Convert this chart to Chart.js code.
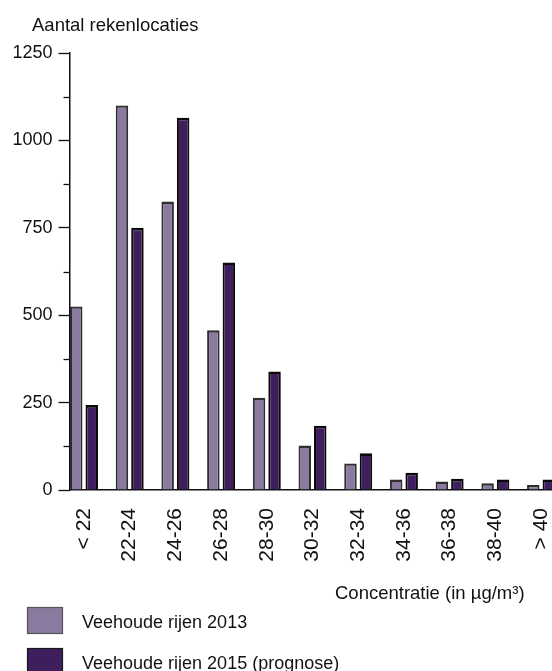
<!DOCTYPE html>
<html>
<head>
<meta charset="utf-8">
<script src="https://cdn.jsdelivr.net/npm/chart.js@4"></script>
<style>
  html, body { margin: 0; padding: 0; background: #fff; overflow: hidden; width: 552px; height: 671px; }
  canvas { display: block; }
</style>
</head>
<body>
<canvas id="c" width="600" height="671"></canvas>
<script>
const categories = ['< 22', '22-24', '24-26', '26-28', '28-30', '30-32', '32-34', '34-36', '36-38', '38-40', '> 40'];
const series2013 = [525, 1100, 825, 457, 264, 127, 76, 30, 24, 19, 14];
const series2015 = [243, 750, 1065, 651, 339, 184, 105, 49, 32, 30, 30];
const yTicks = [0, 250, 500, 750, 1000, 1250];
const yMinorTicks = [125, 375, 625, 875, 1125];
const seriesNames = ['Veehoude rijen 2013', 'Veehoude rijen 2015 (prognose)'];
const yTitle = 'Aantal rekenlocaties';
const xTitle = 'Concentratie (in µg/m³)';

const COL_LIGHT = '#8b7aa0';
const COL_DARK = '#3e1e5c';
const FONT = '"Liberation Sans", Arial, sans-serif';

const extras = {
  id: 'extras',
  afterDraw(chart) {
    const ctx = chart.ctx;
    const y = chart.scales.y;
    const left = chart.chartArea.left;
    ctx.save();
    ctx.strokeStyle = '#111';
    ctx.lineWidth = 1.3;
    yMinorTicks.forEach(v => {
      const py = Math.round(y.getPixelForValue(v)) + 0.5;
      ctx.beginPath();
      ctx.moveTo(left - 6, py);
      ctx.lineTo(left, py);
      ctx.stroke();
    });
    ctx.fillStyle = '#111';
    ctx.textBaseline = 'alphabetic';
    ctx.textAlign = 'left';
    ctx.font = '18.5px ' + FONT;
    ctx.fillText(yTitle, 32, 31);
    ctx.fillText(xTitle, 335, 599);
    const boxes = [{c: COL_LIGHT, b: '#555', y: 607}, {c: COL_DARK, b: '#1a1a1a', y: 648}];
    ctx.font = '18px ' + FONT;
    boxes.forEach((bx, i) => {
      ctx.fillStyle = bx.c;
      ctx.fillRect(27, bx.y, 36, 27);
      ctx.strokeStyle = bx.b;
      ctx.lineWidth = 1.2;
      ctx.strokeRect(27.5, bx.y + 0.5, 35, 26);
      ctx.fillStyle = '#111';
      ctx.fillText(seriesNames[i], 82, bx.y + 21);
    });
    ctx.restore();
  }
};

new Chart(document.getElementById('c'), {
  type: 'bar',
  data: {
    datasets: [
      {
        label: seriesNames[0],
        data: series2013.map((v, i) => ({x: i, y: v})),
        backgroundColor: COL_LIGHT,
        borderColor: '#2e2e2e',
        borderWidth: {top: 2.4, left: 2, right: 2, bottom: 0},
        categoryPercentage: 0.678,
        barPercentage: 0.806,
        clip: false
      },
      {
        label: seriesNames[1],
        data: series2015.map((v, i) => ({x: i, y: v})),
        backgroundColor: COL_DARK,
        borderColor: '#0a0a0a',
        borderWidth: {top: 2.6, left: 2, right: 2, bottom: 0},
        categoryPercentage: 0.678,
        barPercentage: 0.806,
        clip: false
      }
    ]
  },
  options: {
    responsive: false,
    animation: false,
    devicePixelRatio: 1,
    layout: { padding: { top: 53, right: 0, bottom: 0, left: 0 } },
    plugins: { legend: { display: false }, tooltip: { enabled: false }, title: { display: false } },
    scales: {
      x: {
        type: 'linear',
        offset: false,
        min: -0.317,
        max: 11.29,
        afterBuildTicks: (scale) => { scale.ticks = categories.map((_, i) => ({value: i})); },
        afterFit: (scale) => { scale.height = 181; },
        grid: { display: false, offset: false },
        border: { display: true, color: '#111', width: 1.5 },
        ticks: {
          autoSkip: false,
          minRotation: 90,
          maxRotation: 90,
          padding: 10,
          color: '#111',
          font: { family: FONT, size: 21 },
          callback: (v) => categories[v] ?? ''
        }
      },
      y: {
        min: 0,
        max: 1250,
        afterBuildTicks: (scale) => { scale.ticks = yTicks.map(v => ({value: v})); },
        afterFit: (scale) => { scale.width = 69.5; },
        grid: { drawOnChartArea: false, drawTicks: true, tickLength: 11, tickColor: '#111', tickWidth: 1.3 },
        border: { display: true, color: '#111', width: 1.5 },
        ticks: {
          padding: 6,
          color: '#111',
          font: { family: FONT, size: 18 },
          callback: (v) => String(v)
        }
      }
    }
  },
  plugins: [extras]
});
</script>
</body>
</html>
